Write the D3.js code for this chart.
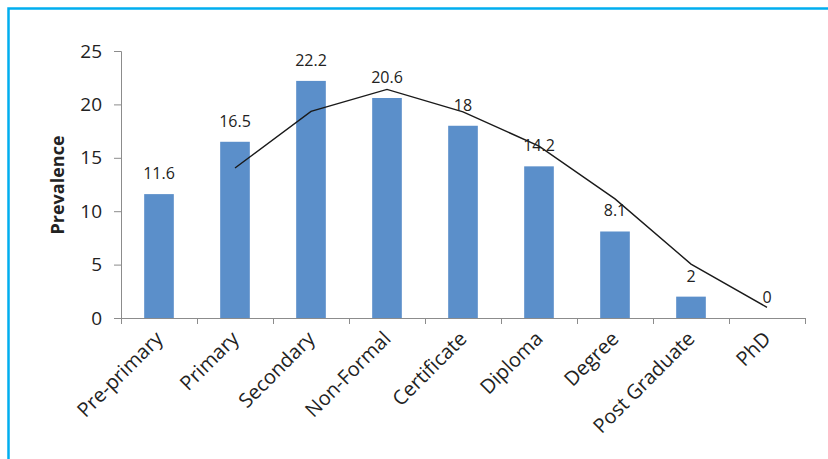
<!DOCTYPE html>
<html>
<head>
<meta charset="utf-8">
<style>
  body { margin: 0; background: #fff; }
  text { font-family: "Open Sans", sans-serif; fill: #222; }
</style>
</head>
<body>
<svg width="828" height="459"></svg>
<script src="https://d3js.org/d3.v7.min.js"></script>
<script>

var categories = ["Pre-primary", "Primary", "Secondary", "Non-Formal", "Certificate",
                  "Diploma", "Degree", "Post Graduate", "PhD"];
var prevalence = [11.6, 16.5, 22.2, 20.6, 18, 14.2, 8.1, 2, 0];
// trend line (2-period moving average), starting at "Primary"
var trendCats = ["Primary", "Secondary", "Non-Formal", "Certificate", "Diploma",
                 "Degree", "Post Graduate", "PhD"];
var trendVals = [14.05, 19.35, 21.4, 19.3, 16.1, 11.15, 5.05, 1];
var yTicks = [0, 5, 10, 15, 20, 25];

var svg = d3.select("svg");

// frame
svg.append("path")
    .attr("d", "M8.5,459 L8.5,8.5 L828,8.5")
    .attr("fill", "none")
    .attr("stroke", "#00aeef")
    .attr("stroke-width", 2.5);

var x = d3.scaleBand().domain(categories).range([121, 805]).padding(0),
    y = d3.scaleLinear().domain([0, 25]).range([318, 51]),
    edge = d3.scaleLinear().domain([0, categories.length]).range([121, 805]);

// y axis
var yAxis = svg.append("g")
    .attr("transform", "translate(121,0)")
    .call(d3.axisLeft(y).tickValues(yTicks).tickSize(7).tickPadding(12));
yAxis.select(".domain").attr("stroke", "#8c8c8c");
yAxis.selectAll(".tick line").attr("stroke", "#8c8c8c");
yAxis.selectAll(".tick text")
    .attr("font-family", "Open Sans")
    .attr("font-size", 19)
    .attr("fill", "#222");

// x axis line and boundary ticks
var xAxis = svg.append("g")
    .attr("transform", "translate(0,318)")
    .call(d3.axisBottom(edge).tickValues(d3.range(categories.length + 1)).tickSize(6).tickFormat(""));
xAxis.select(".domain").attr("stroke", "#8c8c8c");
xAxis.selectAll(".tick line").attr("stroke", "#8c8c8c");

// category labels
svg.append("g").selectAll("text")
    .data(categories)
    .join("text")
    .attr("transform", function(d) {
      return "translate(" + (x(d) + x.bandwidth() / 2 + 5) + ",340) rotate(-45)";
    })
    .attr("text-anchor", "end")
    .attr("font-size", 20)
    .text(function(d) { return d; });

// y title
svg.append("text")
    .attr("transform", "translate(64,185) rotate(-90)")
    .attr("text-anchor", "middle")
    .attr("font-size", 18)
    .attr("font-weight", "bold")
    .text("Prevalence");

// bars
var bw = x.bandwidth() * 0.39;
svg.append("g").selectAll("rect")
    .data(prevalence)
    .join("rect")
    .attr("x", function(d, i) { return x(categories[i]) + (x.bandwidth() - bw) / 2; })
    .attr("y", function(d) { return y(d); })
    .attr("width", bw)
    .attr("height", function(d) { return y(0) - y(d); })
    .attr("fill", "#5b8fca");

// trend line
var line = d3.line()
    .x(function(d, i) { return x(trendCats[i]) + x.bandwidth() / 2; })
    .y(function(d) { return y(d); });
svg.append("path")
    .datum(trendVals)
    .attr("d", line)
    .attr("fill", "none")
    .attr("stroke", "#1a1a1a")
    .attr("stroke-width", 1.4);

// value labels
svg.append("g").selectAll("text")
    .data(prevalence)
    .join("text")
    .attr("x", function(d, i) { return x(categories[i]) + x.bandwidth() / 2; })
    .attr("y", function(d) { return y(d) - 15; })
    .attr("text-anchor", "middle")
    .attr("font-size", 16)
    .text(function(d) { return d; });

</script>
</body>
</html>
